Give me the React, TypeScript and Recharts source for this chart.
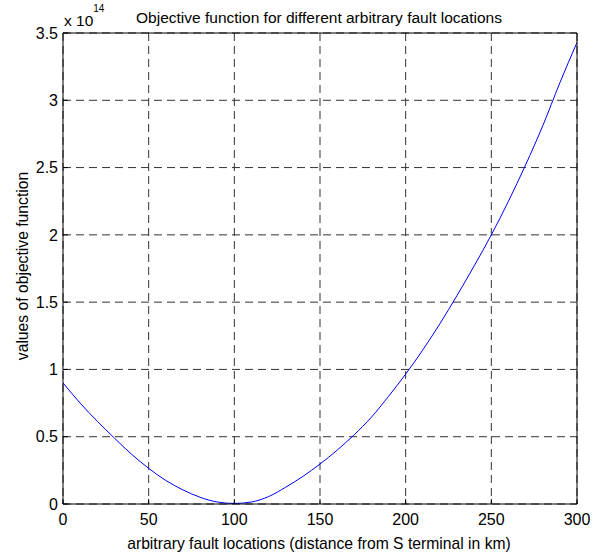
import { LineChart, Line, XAxis, YAxis, CartesianGrid } from "recharts";

// fault location (km)
const locations = [
  0, 10, 20, 30, 40, 50, 60, 70, 80, 90, 100, 110, 120, 130, 140, 150, 160, 170, 180, 190, 200,
  210, 220, 230, 240, 250, 260, 270, 280, 290, 300,
];
// objective function, in units of 1e14
const objective = [
  0.9, 0.75, 0.615, 0.49, 0.37, 0.265, 0.175, 0.105, 0.05, 0.015, 0.004, 0.015, 0.055, 0.125,
  0.205, 0.297, 0.4, 0.515, 0.645, 0.8, 0.965, 1.145, 1.34, 1.55, 1.77, 2.0, 2.25, 2.52, 2.81,
  3.13, 3.43,
];
const xTicks = [0, 50, 100, 150, 200, 250, 300];
const yTicks = [0, 0.5, 1, 1.5, 2, 2.5, 3, 3.5];

const data = locations.map((x, i) => ({ x, y: objective[i] }));

const font = "'Liberation Sans', Arial, sans-serif";
const fmtY = (v: number) => String(v);

export default function App() {
  return (
    <div style={{ position: "absolute", left: 0, top: 0, width: 608, height: 556, background: "#fff" }}>
      <LineChart width={608} height={556} data={data} margin={{ top: 32, right: 30, bottom: 32, left: 33 }}>
        <CartesianGrid stroke="#333" strokeDasharray="8 5" />
        <XAxis
          dataKey="x"
          type="number"
          domain={[0, 300]}
          ticks={xTicks}
          height={20}
          stroke="#000"
          tickSize={-5}
          tickMargin={15}
          tick={{ fill: "#000", fontSize: 16, fontFamily: font }}
        />
        <XAxis xAxisId="t" dataKey="x" type="number" domain={[0, 300]} ticks={xTicks} orientation="top" height={1} stroke="#000" tickSize={-5} tick={false} />
        <YAxis
          type="number"
          domain={[0, 3.5]}
          ticks={yTicks}
          width={30}
          stroke="#000"
          tickSize={-5}
          tickMargin={10}
          tickFormatter={fmtY}
          tick={{ fill: "#000", fontSize: 16, fontFamily: font }}
        />
        <YAxis yAxisId="r" type="number" domain={[0, 3.5]} ticks={yTicks} orientation="right" width={1} stroke="#000" tickSize={-5} tick={false} />
        <Line
          dataKey="y"
          type="monotone"
          stroke="#0000ff"
          strokeWidth={1}
          dot={false}
          isAnimationActive={false}
        />
        <text x={319} y={23} textAnchor="middle" fontSize={15.5} fontFamily={font} fill="#000">
          Objective function for different arbitrary fault locations
        </text>
        <text x={64} y={26} fontSize={15.5} fontFamily={font} fill="#000">
          x 10
          <tspan dy={-14} fontSize={10}>14</tspan>
        </text>
        <text x={319} y={549} textAnchor="middle" fontSize={15.7} fontFamily={font} fill="#000">
          arbitrary fault locations (distance from S terminal in km)
        </text>
        <text x={28} y={266} textAnchor="middle" fontSize={15.7} fontFamily={font} fill="#000" transform="rotate(-90 28 266)">
          values of objective function
        </text>
      </LineChart>
    </div>
  );
}
